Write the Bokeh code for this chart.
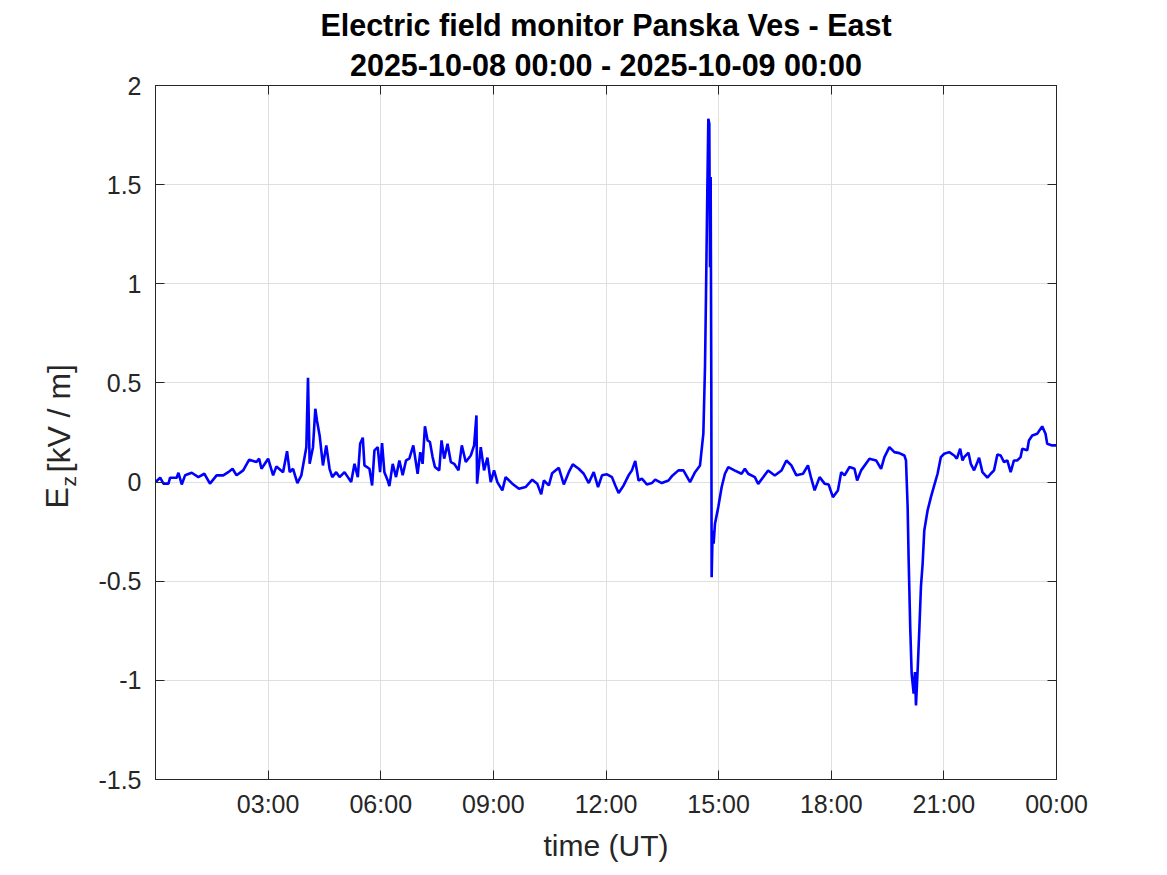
import math
from bokeh.plotting import figure
from bokeh.models import FixedTicker, LinearAxis, Label, Range1d, CustomJSTickFormatter, Title
from bokeh.embed import file_html
from bokeh.resources import INLINE

# ---- data (hours since 2025-10-08 00:00 UT, Ez in kV/m) ----
time_h = [
    0.000, 0.124, 0.212, 0.345, 0.389, 0.566, 0.611, 0.699, 0.788, 0.965, 1.142, 1.301, 1.451, 1.628, 1.805,
    1.938, 2.053, 2.159, 2.336, 2.496, 2.690, 2.761, 2.823, 3.000, 3.133, 3.221, 3.398, 3.504, 3.575, 3.664,
    3.779, 3.885, 4.018, 4.062, 4.106, 4.195, 4.257, 4.301, 4.372, 4.460, 4.549, 4.637, 4.708, 4.814, 4.903,
    5.035, 5.124, 5.212, 5.301, 5.389, 5.451, 5.522, 5.566, 5.699, 5.770, 5.832, 5.920, 5.982, 6.035, 6.097,
    6.186, 6.230, 6.319, 6.407, 6.496, 6.584, 6.673, 6.761, 6.867, 6.982, 7.053, 7.115, 7.177, 7.248, 7.310,
    7.381, 7.443, 7.558, 7.619, 7.690, 7.779, 7.867, 7.956, 8.071, 8.159,
    8.265, 8.398, 8.487, 8.549, 8.566, 8.664, 8.752, 8.841, 8.929, 9.018, 9.106, 9.239, 9.327, 9.504, 9.681,
    9.858, 10.035, 10.168, 10.274, 10.345, 10.478, 10.566, 10.743, 10.876, 11.009, 11.115, 11.274, 11.407,
    11.540, 11.673, 11.788, 11.894, 12.027, 12.159, 12.248, 12.336, 12.469, 12.602, 12.690, 12.779, 12.867,
    12.956, 13.088, 13.221, 13.310, 13.487, 13.664, 13.752, 13.929, 14.062, 14.239, 14.372, 14.504,
    14.593, 14.637, 14.664, 14.699, 14.726, 14.752, 14.770, 14.788, 14.805, 14.814, 14.841, 14.867, 14.903,
    14.991, 15.080, 15.168, 15.257, 15.434, 15.611, 15.699, 15.788, 15.965, 16.053, 16.319, 16.496, 16.673,
    16.805, 16.938, 17.071, 17.248, 17.380, 17.469, 17.557, 17.690, 17.823, 17.929, 18.044, 18.177, 18.265,
    18.354, 18.487, 18.619, 18.690, 18.796, 19.018, 19.195, 19.327, 19.416, 19.549, 19.681, 19.814, 19.947,
    19.991, 20.035, 20.062, 20.106, 20.142, 20.195, 20.230, 20.257, 20.301, 20.345, 20.389, 20.434, 20.478,
    20.566, 20.655, 20.743, 20.832, 20.920, 21.009, 21.142, 21.274, 21.345, 21.434, 21.496, 21.540, 21.655,
    21.717, 21.805, 21.894, 21.938, 22.027, 22.159, 22.248, 22.336, 22.425, 22.513, 22.602, 22.690, 22.779,
    22.867, 22.956, 23.044, 23.088, 23.221, 23.265, 23.354, 23.487, 23.619, 23.708, 23.752, 23.885, 24.000,
]
ez_kv_m = [
    0.000, 0.022, -0.008, -0.008, 0.022, 0.022, 0.047, -0.012, 0.034, 0.047, 0.025, 0.042, -0.008, 0.034, 0.034,
    0.050, 0.067, 0.034, 0.059, 0.113, 0.101, 0.118, 0.067, 0.118, 0.034, 0.079, 0.050, 0.156, 0.050, 0.067,
    -0.005, 0.034, 0.176, 0.526, 0.092, 0.176, 0.370, 0.311, 0.235, 0.084, 0.185, 0.067, 0.025, 0.050, 0.025,
    0.050, 0.025, 0.000, 0.092, 0.025, 0.193, 0.224, 0.084, 0.067, -0.017, 0.160, 0.176, 0.050, 0.197, 0.050,
    0.008, -0.020, 0.092, 0.025, 0.109, 0.034, 0.109, 0.118, 0.185, 0.042, 0.151, 0.092, 0.281, 0.210, 0.202,
    0.126, 0.076, 0.059, 0.210, 0.118, 0.193, 0.101, 0.092, 0.059, 0.185,
    0.101, 0.134, 0.185, 0.336, -0.008, 0.176, 0.059, 0.123, 0.000, 0.059, 0.000, -0.042, 0.025, -0.008, -0.034,
    -0.025, 0.012, -0.008, -0.062, 0.008, -0.017, 0.045, 0.072, -0.012, 0.050, 0.089, 0.067, 0.042,
    -0.005, 0.050, -0.025, 0.034, 0.039, 0.025, -0.017, -0.055, -0.017, 0.034, 0.059, 0.106, 0.008,
    0.017, -0.012, -0.005, 0.012, -0.005, 0.008, 0.029, 0.059, 0.059, 0.000, 0.050, 0.084,
    0.244, 0.580, 0.950, 1.470, 1.832, 1.807, 1.084, 1.538, 0.497, -0.480, -0.244, -0.310, -0.210,
    -0.126, -0.026, 0.042, 0.075, 0.058, 0.042, 0.067, 0.042, 0.025, -0.009, 0.058, 0.033, 0.058,
    0.109, 0.084, 0.034, 0.042, 0.084, 0.017, -0.042, 0.025, -0.008, -0.012, -0.076, -0.042, 0.050,
    0.034, 0.076, 0.067, 0.008, 0.059, 0.118, 0.109, 0.067, 0.126, 0.176, 0.151, 0.146, 0.134,
    0.109, -0.126, -0.395, -0.748, -0.966, -1.067, -0.958, -1.126, -0.950, -0.748, -0.529, -0.412, -0.244,
    -0.143, -0.076, -0.017, 0.042, 0.126, 0.143, 0.151, 0.134, 0.118, 0.168, 0.109, 0.126, 0.148,
    0.092, 0.059, 0.101, 0.123, 0.050, 0.022, 0.042, 0.059, 0.139, 0.134, 0.101, 0.109, 0.050,
    0.109, 0.109, 0.126, 0.168, 0.160, 0.210, 0.235, 0.244, 0.281, 0.244, 0.193, 0.185, 0.185,
]
x_ticks = [3, 6, 9, 12, 15, 18, 21, 24]
x_tick_labels = ["03:00", "06:00", "09:00", "12:00", "15:00", "18:00", "21:00", "00:00"]
y_ticks = [-1.5, -1, -0.5, 0, 0.5, 1, 1.5, 2]
y_tick_labels = ["-1.5", "-1", "-0.5", "0", "0.5", "1", "1.5", "2"]
title_lines = ["Electric field monitor Panska Ves - East", "2025-10-08 00:00 - 2025-10-09 00:00"]
x_label = "time (UT)"
y_label_main, y_label_sub, y_label_unit = "E", "z", "[kV / m]"

FONT = "Liberation Sans"
AX = "#262626"
W, H = 1150, 866
L, T = 152, 85
R, B = W - 1056, H - 779

p = figure(width=W, height=H, output_backend="svg", toolbar_location=None,
           x_range=Range1d(0, 24), y_range=Range1d(-1.5, 2),
           min_border_left=L, min_border_right=R, min_border_top=T, min_border_bottom=B,
           background_fill_color="white", border_fill_color="white")
p.title.visible = False
p.outline_line_color = AX

p.line(time_h, ez_kv_m, line_color="#0000ff", line_width=2.6)


def style_axis(ax, ticks):
    ax.ticker = FixedTicker(ticks=ticks)
    ax.major_tick_in = 9
    ax.major_tick_out = 0
    ax.minor_tick_in = 0
    ax.minor_tick_out = 0
    ax.axis_line_color = AX
    ax.major_tick_line_color = AX
    ax.axis_line_width = 1
    ax.major_label_text_font = FONT
    ax.major_label_text_font_size = "25px"
    ax.major_label_text_color = AX


style_axis(p.xaxis[0], x_ticks)
p.xaxis[0].major_label_overrides = dict(zip(x_ticks, x_tick_labels))
p.xaxis[0].major_label_standoff = 10
p.xaxis[0].axis_label = x_label
p.xaxis[0].axis_label_text_font = FONT
p.xaxis[0].axis_label_text_font_size = "30px"
p.xaxis[0].axis_label_text_font_style = "normal"
p.xaxis[0].axis_label_text_color = AX
p.xaxis[0].axis_label_standoff = 8

style_axis(p.yaxis[0], y_ticks)
p.yaxis[0].major_label_overrides = dict(zip(y_ticks, y_tick_labels))
p.yaxis[0].major_label_standoff = 14

top = LinearAxis()
style_axis(top, x_ticks)
top.formatter = CustomJSTickFormatter(code="return ''")
top.major_label_text_font_size = "0px"
top.major_label_standoff = 0
p.add_layout(top, "above")
right = LinearAxis()
style_axis(right, y_ticks)
right.formatter = CustomJSTickFormatter(code="return ''")
right.major_label_text_font_size = "0px"
right.major_label_standoff = 0
p.add_layout(right, "right")

for g, t in ((p.xgrid[0], x_ticks), (p.ygrid[0], y_ticks)):
    g.ticker = FixedTicker(ticks=t)
    g.grid_line_color = "#dfdfdf"
    g.grid_line_width = 1

# title (two lines); first added sits nearest the frame
p.add_layout(Title(text=title_lines[1], align="center", text_font=FONT, text_font_style="bold",
                   text_font_size="30.5px", text_color="black", standoff=8), "above")
p.add_layout(Title(text=title_lines[0], align="center", text_font=FONT, text_font_style="bold",
                   text_font_size="30.5px", text_color="black", standoff=0), "above")

# y label: E_z [kV / m]  (labels placed in the left side panel, positions relative to their strip)
lab_kw = dict(x_units="screen", y_units="screen", angle=math.pi / 2, text_align="left",
              text_baseline="alphabetic", text_font=FONT, text_color=AX)
p.add_layout(Label(x=-0.5, y=307, text=y_label_unit, text_font_size="32px", **lab_kw), "left")
p.add_layout(Label(x=31.5, y=293, text=y_label_sub, text_font_size="21px", **lab_kw), "left")
p.add_layout(Label(x=56, y=271, text=y_label_main, text_font_size="32px", **lab_kw), "left")

open("out.html", "w").write(file_html(p, INLINE))
